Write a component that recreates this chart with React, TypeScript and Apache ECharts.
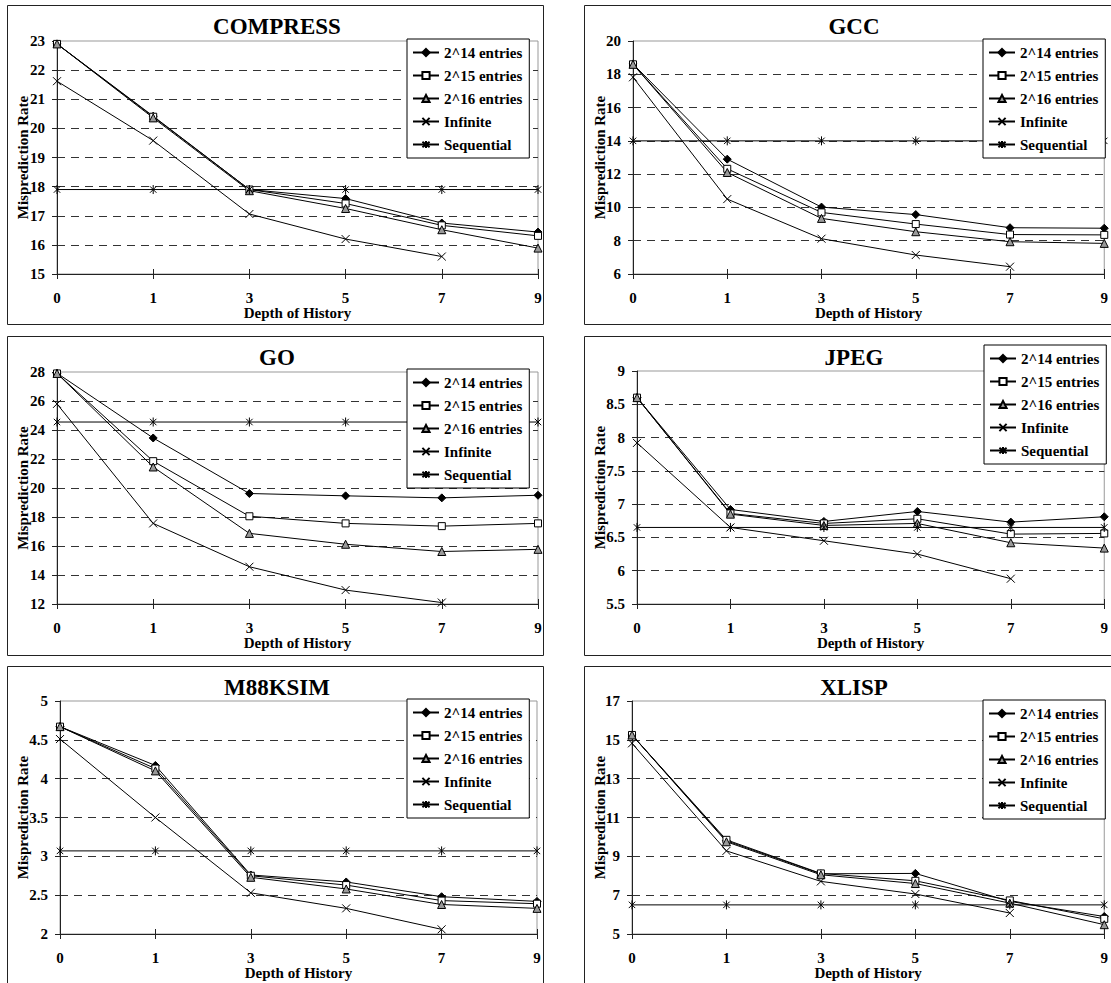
import React, { useEffect, useRef } from "react";
import * as echarts from "echarts";

// ---------- data ----------
const depthCategories = ["0", "1", "3", "5", "7", "9"];
const seriesNames = ["2^14 entries", "2^15 entries", "2^16 entries", "Infinite", "Sequential"];
const yAxisTitle = "Misprediction Rate";
const xAxisTitle = "Depth of History";

// COMPRESS
const compressAxis = [15, 23, 1];
const compress14 = [22.9, 20.42, 17.9, 17.59, 16.75, 16.44];
const compress15 = [22.9, 20.4, 17.9, 17.42, 16.67, 16.31];
const compress16 = [22.9, 20.36, 17.86, 17.25, 16.52, 15.89];
const compressInf = [21.62, 19.58, 17.06, 16.2, 15.6, null];
const compressSeq = [17.9, 17.9, 17.9, 17.9, 17.9, 17.9];

// GCC
const gccAxis = [6, 20, 2];
const gcc14 = [18.62, 12.9, 10.02, 9.57, 8.78, 8.75];
const gcc15 = [18.6, 12.32, 9.7, 9.0, 8.37, 8.35];
const gcc16 = [18.6, 12.1, 9.34, 8.54, 7.94, 7.84];
const gccInf = [17.82, 10.5, 8.12, 7.14, 6.44, null];
const gccSeq = [14, 14, 14, 14, 14, 14];

// GO
const goAxis = [12, 28, 2];
const go14 = [27.92, 23.45, 19.62, 19.46, 19.32, 19.5];
const go15 = [27.9, 21.85, 18.05, 17.56, 17.37, 17.56];
const go16 = [27.9, 21.45, 16.87, 16.12, 15.62, 15.77];
const goInf = [25.8, 17.56, 14.57, 12.96, 12.1, null];
const goSeq = [24.55, 24.55, 24.55, 24.55, 24.55, 24.55];

// JPEG
const jpegAxis = [5.5, 9, 0.5];
const jpeg14 = [8.6, 6.92, 6.74, 6.89, 6.73, 6.81];
const jpeg15 = [8.6, 6.86, 6.71, 6.78, 6.55, 6.56];
const jpeg16 = [8.6, 6.85, 6.68, 6.71, 6.42, 6.34];
const jpegInf = [7.92, 6.65, 6.45, 6.25, 5.88, null];
const jpegSeq = [6.65, 6.65, 6.65, 6.65, 6.65, 6.65];

// M88KSIM
const m88Axis = [2, 5, 0.5];
const m8814 = [4.67, 4.17, 2.76, 2.67, 2.48, 2.42];
const m8815 = [4.67, 4.13, 2.75, 2.63, 2.43, 2.39];
const m8816 = [4.67, 4.1, 2.73, 2.58, 2.38, 2.33];
const m88Inf = [4.51, 3.5, 2.53, 2.33, 2.06, null];
const m88Seq = [3.07, 3.07, 3.07, 3.07, 3.07, 3.07];

// XLISP
const xlispAxis = [5, 17, 2];
const xlisp14 = [15.25, 9.8, 8.1, 8.12, 6.68, 5.9];
const xlisp15 = [15.25, 9.85, 8.12, 7.74, 6.73, 5.78];
const xlisp16 = [15.25, 9.75, 8.05, 7.6, 6.59, 5.48];
const xlispInf = [14.82, 9.28, 7.71, 7.06, 6.08, null];
const xlispSeq = [6.5, 6.5, 6.5, 6.5, 6.5, 6.5];

// ---------- layout / style ----------
const serif = "Liberation Serif";
const PANEL_W = 536;
const PANEL_H = 319;

const panels = [
  { title: "COMPRESS", axis: compressAxis, values: [compress14, compress15, compress16, compressInf, compressSeq], px: 7, py: 5, grid: [57, 41, 481, 233], legend: [407, 39] },
  { title: "GCC", axis: gccAxis, values: [gcc14, gcc15, gcc16, gccInf, gccSeq], px: 584, py: 5, grid: [633, 41, 481, 233], legend: [983, 39] },
  { title: "GO", axis: goAxis, values: [go14, go15, go16, goInf, goSeq], px: 7, py: 336, grid: [57, 372, 481, 232], legend: [407, 369] },
  { title: "JPEG", axis: jpegAxis, values: [jpeg14, jpeg15, jpeg16, jpegInf, jpegSeq], px: 584, py: 336, grid: [637, 371, 477, 233], legend: [984, 345] },
  { title: "M88KSIM", axis: m88Axis, values: [m8814, m8815, m8816, m88Inf, m88Seq], px: 7, py: 666, grid: [60, 701, 477, 233], legend: [407, 699] },
  { title: "XLISP", axis: xlispAxis, values: [xlisp14, xlisp15, xlisp16, xlispInf, xlispSeq], px: 584, py: 666, grid: [632, 701, 482, 233], legend: [983, 700] },
];

const crossPath = "path://M0,0L10,10M10,0L0,10";
const starPath = "path://M0,0L10,10M10,0L0,10M5,-2L5,12";
const markerStyles = [
  { symbol: "diamond", size: 8, fill: "#000" },
  { symbol: "rect", size: 7, fill: "#fff" },
  { symbol: "triangle", size: 8, fill: "#999" },
  { symbol: crossPath, size: 8, fill: "#000" },
  { symbol: starPath, size: 9, fill: "#000" },
];

const axisColor = "#222";
const boldText = { color: "#000", fontFamily: serif, fontWeight: "bold" as const, fontSize: 15 };

function buildOption() {
  const grids: any[] = [];
  const xAxes: any[] = [];
  const yAxes: any[] = [];
  const legends: any[] = [];
  const titles: any[] = [];
  const series: any[] = [];
  const graphics: any[] = [];

  panels.forEach((p, i) => {
    const [gl, gt, gw, gh] = p.grid;
    grids.push({ left: gl, top: gt, width: gw, height: gh, show: true, borderColor: "#999", borderWidth: 1, backgroundColor: "transparent" });

    xAxes.push({
      type: "category",
      gridIndex: i,
      data: depthCategories,
      boundaryGap: false,
      position: "bottom",
      axisLine: { show: true, onZero: false, lineStyle: { color: axisColor, width: 1 } },
      axisTick: { show: true, length: 5, lineStyle: { color: axisColor } },
      axisLabel: { interval: 0, margin: 16, ...boldText },
      splitLine: { show: false },
      name: xAxisTitle,
      nameLocation: "middle",
      nameGap: 31,
      nameMoveOverlap: false,
      nameTextStyle: { ...boldText },
    });
    xAxes.push({
      type: "category",
      gridIndex: i,
      data: depthCategories,
      boundaryGap: false,
      position: "bottom",
      axisLine: { show: false, onZero: false },
      axisTick: { show: true, inside: true, length: 5, lineStyle: { color: axisColor } },
      axisLabel: { show: false },
      splitLine: { show: false },
    });

    const nameGap = gl - (p.px + 16) - 7.5;
    yAxes.push({
      type: "value",
      gridIndex: i,
      min: p.axis[0],
      max: p.axis[1],
      interval: p.axis[2],
      axisLine: { show: true, lineStyle: { color: axisColor, width: 1 } },
      axisTick: { show: true, length: 5, lineStyle: { color: axisColor } },
      axisLabel: { margin: 12, ...boldText },
      splitLine: { show: true, showMinLine: false, showMaxLine: false, lineStyle: { color: "#333", width: 1, type: [8, 6] } },
      name: yAxisTitle,
      nameLocation: "middle",
      nameGap,
      nameMoveOverlap: false,
      nameTextStyle: { ...boldText },
    });

    legends.push({
      data: seriesNames,
      orient: "vertical",
      left: p.legend[0],
      top: p.legend[1],
      itemWidth: 26,
      itemHeight: 9,
      itemGap: 8,
      padding: [6, 7, 6, 5],
      borderColor: "#000",
      borderWidth: 1,
      backgroundColor: "#fff",
      selectedMode: false,
      align: "left",
      textStyle: { ...boldText },
    });

    titles.push({
      text: p.title,
      left: p.px + PANEL_W / 2 + 2,
      top: p.py + 10,
      textAlign: "center",
      padding: 0,
      textStyle: { color: "#000", fontFamily: serif, fontWeight: "bold", fontSize: 23 },
    });

    graphics.push({
      type: "rect",
      shape: { x: p.px + 0.5, y: p.py + 0.5, width: PANEL_W, height: PANEL_H },
      style: { fill: "none", stroke: "#222", lineWidth: 1 },
      silent: true,
      z: 0,
    });

    p.values.forEach((vals, k) => {
      const m = markerStyles[k];
      series.push({
        type: "line",
        name: seriesNames[k],
        xAxisIndex: i * 2,
        yAxisIndex: i,
        data: vals,
        symbol: m.symbol,
        symbolSize: m.size,
        symbolKeepAspect: true,
        showSymbol: true,
        showAllSymbol: true,
        connectNulls: false,
        lineStyle: { color: "#000", width: 1 },
        itemStyle: { color: m.fill, borderColor: "#000", borderWidth: 1 },
        emphasis: { disabled: true },
        z: 3,
      });
    });
  });

  return {
    animation: false,
    backgroundColor: "#fff",
    textStyle: { fontFamily: serif },
    title: titles,
    grid: grids,
    xAxis: xAxes,
    yAxis: yAxes,
    legend: legends,
    series,
    graphic: graphics,
  };
}

export default function App() {
  const ref = useRef<HTMLDivElement>(null);
  useEffect(() => {
    if (!ref.current) return;
    const chart = echarts.init(ref.current, null, { renderer: "svg" });
    chart.setOption(buildOption() as any);
    return () => chart.dispose();
  }, []);
  return (
    <div
      ref={ref}
      style={{ position: "absolute", left: 0, top: 0, width: 1111, height: 983, background: "#fff" }}
    />
  );
}
